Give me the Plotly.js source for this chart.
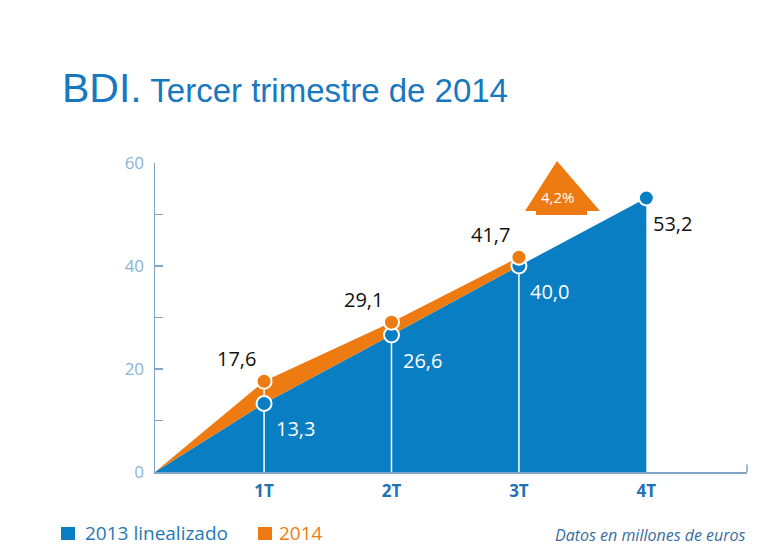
<!DOCTYPE html>
<html>
<head>
<meta charset="utf-8">
<script src="https://cdn.plot.ly/plotly-3.0.1.min.js"></script>
<style>html,body{margin:0;padding:0;background:#fff;}#chart{width:779px;height:556px;}</style>
</head>
<body>
<div id="chart"></div>
<script>
// ---- data ----
const quarterLabels = ['1T', '2T', '3T', '4T'];
const quarterPos = [1, 2, 3, 4];
const startPos = 0.144;            // origin of the accumulated lines
const serie2013 = [13.3, 26.6, 40.0, 53.2];   // 2013 linealizado
const serie2014 = [17.6, 29.1, 41.7];         // 2014
const labels2013 = ['13,3', '26,6', '40,0', '53,2'];
const labels2014 = ['17,6', '29,1', '41,7'];
const growthLabel = '4,2%';
const yTickVals = [0, 10, 20, 30, 40, 50, 60];
const yTickText = ['0', '', '20', '', '40', '', '60'];

const BLUE = '#0a7ec3';
const ORANGE = '#ee7b12';
const AXIS = '#7fa6c6';
const FONT = 'Open Sans, Liberation Sans, sans-serif';

const x13 = [startPos].concat(quarterPos);
const y13 = [0].concat(serie2013);
const x14 = [startPos].concat(quarterPos.slice(0, serie2014.length));
const y14 = [0].concat(serie2014);
const y13base = [0].concat(serie2013.slice(0, serie2014.length));

// white guide lines from axis to 2014 value
const gx = [], gy = [];
serie2014.forEach((v, i) => { gx.push(quarterPos[i], quarterPos[i], null); gy.push(0, v, null); });

const traces = [
  {x: x13, y: y13, mode: 'lines', fill: 'tozeroy', fillcolor: BLUE, line: {color: BLUE, width: 0}, hoverinfo: 'skip'},
  {x: x14, y: y13base, mode: 'lines', line: {color: BLUE, width: 0}, hoverinfo: 'skip'},
  {x: x14, y: y14, mode: 'lines', fill: 'tonexty', fillcolor: ORANGE, line: {color: ORANGE, width: 0}, hoverinfo: 'skip'},
  {x: gx, y: gy, mode: 'lines', line: {color: '#ffffff', width: 1.5}, hoverinfo: 'skip'},
  {x: quarterPos, y: serie2013, mode: 'markers', marker: {color: BLUE, size: 15, line: {color: '#ffffff', width: 2}}, hoverinfo: 'skip', cliponaxis: false},
  {x: quarterPos.slice(0, serie2014.length), y: serie2014, mode: 'markers', marker: {color: ORANGE, size: 15, line: {color: '#ffffff', width: 2}}, hoverinfo: 'skip', cliponaxis: false}
];

const annotations = [];
serie2014.forEach((v, i) => annotations.push({
  x: quarterPos[i], y: v, xref: 'x', yref: 'y', text: labels2014[i], showarrow: false,
  xanchor: 'center', yanchor: 'middle',
  xshift: -28, yshift: 23, font: {family: FONT, size: 20, color: '#111111'}
}));
serie2013.forEach((v, i) => {
  const last = i === serie2013.length - 1;
  annotations.push({
    x: quarterPos[i], y: v, xref: 'x', yref: 'y', text: labels2013[i], showarrow: false,
    xanchor: 'center', yanchor: 'middle',
    xshift: last ? 26 : 31, yshift: last ? -25 : -25,
    font: {family: FONT, size: 20, color: last ? '#111111' : '#ffffff'}
  });
});
// growth label on arrow
annotations.push({x: 0.6807, y: 0.89, xref: 'paper', yref: 'paper', xanchor: 'center', yanchor: 'middle',
  text: growthLabel, showarrow: false, font: {family: FONT, size: 15, color: '#ffffff'}});
// legend
annotations.push({x: -0.1216, y: -0.199, xref: 'paper', yref: 'paper', xanchor: 'left', yanchor: 'middle',
  text: '2013 linealizado', showarrow: false, font: {family: FONT, size: 19, color: '#1f78b8'}});
annotations.push({x: 0.2053, y: -0.199, xref: 'paper', yref: 'paper', xanchor: 'left', yanchor: 'middle',
  text: '2014', showarrow: false, font: {family: FONT, size: 19, color: ORANGE}});
annotations.push({x: 1.002, y: -0.205, xref: 'paper', yref: 'paper', xanchor: 'right', yanchor: 'middle',
  text: '<i>Datos en millones de euros</i>', showarrow: false, font: {family: FONT, size: 16, color: '#3a6d9e'}});

const shapes = [
  // arrow
  {type: 'path', xref: 'paper', yref: 'paper', fillcolor: ORANGE, line: {width: 0}, layer: 'below',
   path: 'M 0.625 0.8447 L 0.679 1.0065 L 0.7517 0.8447 L 0.7297 0.8447 L 0.7297 0.8317 L 0.6436 0.8317 L 0.6436 0.8447 Z'},
  // x-axis end upturn
  {type: 'line', xref: 'paper', yref: 'paper', x0: 1, x1: 1, y0: 0, y1: 0.024, line: {color: AXIS, width: 1.5}},
  // legend squares
  {type: 'rect', xref: 'paper', yref: 'paper', x0: -0.1588, x1: -0.1351, y0: -0.178, y1: -0.220, fillcolor: BLUE, line: {width: 0}},
  {type: 'rect', xref: 'paper', yref: 'paper', x0: 0.174, x1: 0.1976, y0: -0.178, y1: -0.220, fillcolor: ORANGE, line: {width: 0}}
];

const layout = {
  width: 779, height: 556,
  margin: {l: 155, r: 32, t: 163, b: 84},
  paper_bgcolor: '#ffffff', plot_bgcolor: 'rgba(0,0,0,0)',
  showlegend: false,
  title: {
    text: '<span style="font-size:41px">BDI.</span> Tercer trimestre de 2014',
    font: {family: 'Liberation Sans, Arial, sans-serif', size: 33, color: '#1878bf'},
    x: 0.0796, xanchor: 'left', xref: 'container',
    y: 0.838, yanchor: 'middle', yref: 'container'
  },
  xaxis: {
    range: [startPos, 4.79], tickvals: quarterPos, ticktext: quarterLabels,
    showgrid: false, zeroline: false, showline: true, linecolor: AXIS, linewidth: 1.5,
    ticks: '', ticklabelstandoff: 3,
    tickfont: {family: FONT, size: 17, color: '#1f72b5', weight: 'bold'}
  },
  yaxis: {
    range: [0, 60], tickvals: yTickVals, ticktext: yTickText,
    showgrid: false, zeroline: false, showline: true, linecolor: AXIS, linewidth: 1.5,
    ticks: 'inside', ticklen: 8, tickwidth: 1.5, tickcolor: AXIS, ticklabelstandoff: 6,
    tickfont: {family: FONT, size: 17, color: '#8ab4d6'}
  },
  annotations: annotations,
  shapes: shapes
};

Plotly.newPlot('chart', traces, layout, {displayModeBar: false, staticPlot: true});
</script>
</body>
</html>
